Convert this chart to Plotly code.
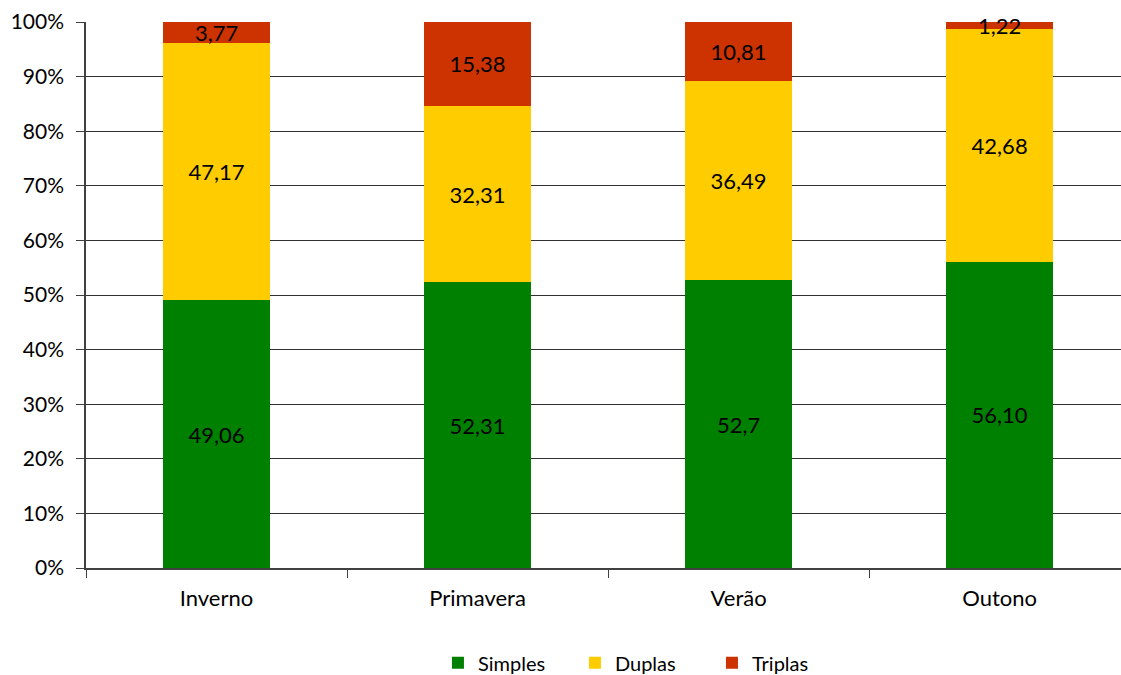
import plotly.graph_objects as go

categories = ["Inverno", "Primavera", "Verão", "Outono"]
simples = [49.06, 52.31, 52.70, 56.10]
duplas = [47.17, 32.31, 36.49, 42.68]
triplas = [3.77, 15.38, 10.81, 1.22]
simples_lbl = ["49,06", "52,31", "52,7", "56,10"]
duplas_lbl = ["47,17", "32,31", "36,49", "42,68"]
triplas_lbl = ["3,77", "15,38", "10,81", "1,22"]
y_ticks = [0, 10, 20, 30, 40, 50, 60, 70, 80, 90, 100]

FONT = "Lato"
fig = go.Figure()
series = [
    ("Simples", simples, simples_lbl, "#008000"),
    ("Duplas", duplas, duplas_lbl, "#FFCC00"),
    ("Triplas", triplas, triplas_lbl, "#CC3300"),
]
for name, vals, lbls, col in series:
    fig.add_trace(go.Bar(
        name=name, x=categories, y=vals, text=lbls,
        textposition="inside", insidetextanchor="middle",
        textangle=0, constraintext="none",
        textfont=dict(family=FONT, size=22, color="black"),
        marker=dict(color=col, line=dict(width=0)),
        width=0.41, cliponaxis=False,
    ))

fig.update_layout(
    barmode="stack",
    width=1121, height=675,
    margin=dict(l=86, r=0, t=22, b=107),
    paper_bgcolor="white", plot_bgcolor="white",
    font=dict(family=FONT, size=21, color="black"),
    showlegend=True,
    legend=dict(orientation="h", xref="container", yref="container",
                x=0.574, xanchor="center", y=0.018, yanchor="middle",
                font=dict(family=FONT, size=20), traceorder="normal",
                itemwidth=30, entrywidth=92, itemsizing="constant"),
)
fig.update_xaxes(
    range=[-0.5, 3.465], showline=True, linecolor="#404040", linewidth=1.5,
    ticks="outside", tickson="boundaries", ticklen=8, tickcolor="#404040",
    tickfont=dict(family=FONT, size=22), showgrid=False,
    ticklabelstandoff=10,
)
fig.update_yaxes(
    range=[0, 100], tickvals=y_ticks, ticktext=[f"{v}%" for v in y_ticks],
    showline=True, linecolor="#404040", linewidth=1.5,
    ticks="outside", ticklen=8, tickcolor="#404040",
    showgrid=True, gridcolor="#303030", gridwidth=1,
    tickfont=dict(family=FONT, size=21), zeroline=False,
    ticklabelstandoff=8,
)
fig.write_html("out.html")
